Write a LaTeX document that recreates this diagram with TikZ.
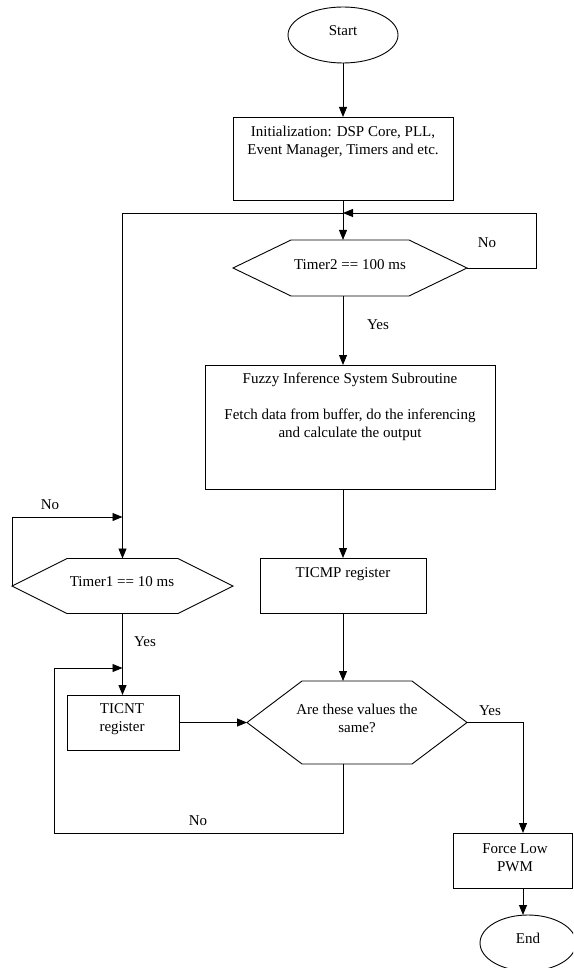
\documentclass[tikz,border=0pt]{standalone}
\usepackage{fontspec}
\setmainfont{Liberation Serif}
\usetikzlibrary{arrows.meta,calc,shapes.geometric}
\begin{document}
\begin{tikzpicture}[x=1pt,y=-1pt,
  font=\fontsize{15}{18}\selectfont,
  line width=0.9pt,
  arr/.style={-{Triangle[length=10pt,width=8pt]}},
  box/.style={draw, rectangle, inner sep=0pt, outer sep=0pt},
  hexa/.style={rectangle, inner sep=0pt, outer sep=0pt},
  term/.style={draw, ellipse, inner sep=0pt, outer sep=0pt, minimum width=110pt, minimum height=56pt},
  txt/.style={inner sep=0pt, align=center}]
\useasboundingbox (0,0) rectangle (573,968);
\clip (0,0) rectangle (573,968);

% nodes
\node[term] (start) at (343,35) {};
\node[txt] at (343,31) {Start};

\node[box, minimum width=220.6pt, minimum height=83pt] (init) at (343.3,158.5) {};
\node[txt] at (343,142) {Initialization: DSP Core, PLL,\\Event Manager, Timers and etc.};

\coordinate (j) at (343,213);
\coordinate (lc) at (122.5,213);
\coordinate (rc) at (536,213);

\node[hexa, minimum width=234pt, minimum height=56pt] (t2) at (350,268) {};
\draw (t2.west) -- ([xshift=58pt]t2.north west) -- ([xshift=-58pt]t2.north east) -- (t2.east)
  -- ([xshift=-58pt]t2.south east) -- ([xshift=58pt]t2.south west) -- cycle;
\node[txt] at (350,265) {Timer2 == 100 ms};

\node[box, minimum width=290pt, minimum height=124pt] (fis) at (350,427) {};
\node[txt] at (350,380) {Fuzzy Inference System Subroutine};
\node[txt] at (350,424.5) {Fetch data from buffer, do the inferencing\\and calculate the output};

\node[box, minimum width=166pt, minimum height=55pt] (ticmp) at (343,585.5) {};
\node[txt] at (343,574) {TICMP register};

\node[hexa, minimum width=221pt, minimum height=55pt] (t1) at (122.5,586) {};
\draw (t1.west) -- ([xshift=55pt]t1.north west) -- ([xshift=-55pt]t1.north east) -- (t1.east)
  -- ([xshift=-55pt]t1.south east) -- ([xshift=55pt]t1.south west) -- cycle;
\node[txt] at (122,582) {Timer1 == 10 ms};

\node[box, minimum width=112pt, minimum height=55pt] (ticnt) at (123,722.5) {};
\node[txt] at (122,719.5) {TICNT\\register};

\node[hexa, minimum width=220pt, minimum height=83pt] (same) at (357,722.5) {};
\draw (same.west) -- ([xshift=55pt]same.north west) -- ([xshift=-55pt]same.north east) -- (same.east)
  -- ([xshift=-55pt]same.south east) -- ([xshift=55pt]same.south west) -- cycle;
\node[txt] at (357,718) {Are these values the\\same?};

\node[box, minimum width=119pt, minimum height=55pt] (force) at (512.5,860.5) {};
\node[txt] at (515,858) {Force Low\\PWM};

\node[term, minimum width=96pt] (end) at (528,943) {};
\node[txt] at (528,938) {End};

\coordinate (nl1) at (12,517);
\coordinate (nl2) at (54,833);
\coordinate (nl3) at (54,668);
\coordinate (yr) at (523,722.5);

% connectors
\draw[arr] (start.south) -- (start.south |- init.north);
\draw[arr] (init.south -| j) -- (j |- t2.north);
\draw[arr] (j) -- (lc) -- (lc |- t1.north);
\draw[arr] (t2.east) -| (rc) -- (j);
\draw[arr] (t2.south -| j) -- (j |- fis.north);
\draw[arr] (fis.south -| j) -- (j |- ticmp.north);
\draw[arr] (ticmp.south -| j) -- (j |- same.north);
\draw[arr] (t1.west) -- (nl1) -- (nl1 -| lc);
\draw[arr] (t1.south -| lc) -- (lc |- ticnt.north);
\draw[arr] (ticnt.east) -- (same.west);
\draw[arr] (same.south -| j) -- (j |- nl2) -- (nl2) -- (nl3) -- (nl3 -| lc);
\draw[arr] (same.east) -- (yr) -- (yr |- force.north);
\draw[arr] (force.south -| yr) -- (yr |- end.north);

% labels
\node[txt] at (487,243) {No};
\node[txt] at (378,325) {Yes};
\node[txt] at (50,505) {No};
\node[txt] at (145,642) {Yes};
\node[txt] at (198,821) {No};
\node[txt] at (490,711) {Yes};
\end{tikzpicture}
\end{document}
